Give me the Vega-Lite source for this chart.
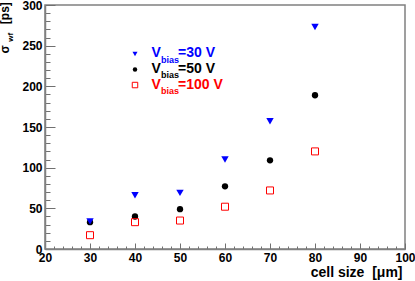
{
  "$schema": "https://vega.github.io/schema/vega-lite/v6.json",
  "width": 360,
  "height": 244,
  "autosize": "none",
  "padding": {"left": 45, "top": 5, "right": 10, "bottom": 32},
  "background": "white",
  "config": {
    "view": {"stroke": "#808080", "strokeWidth": 1.5},
    "font": "Liberation Sans",
    "text": {"font": "Liberation Sans", "fontWeight": "bold"}
  },
  "datasets": {
    "points": [
      {"cell": 30, "bias": "30 V", "sigma": 34},
      {"cell": 40, "bias": "30 V", "sigma": 66},
      {"cell": 50, "bias": "30 V", "sigma": 69},
      {"cell": 60, "bias": "30 V", "sigma": 110},
      {"cell": 70, "bias": "30 V", "sigma": 157},
      {"cell": 80, "bias": "30 V", "sigma": 273},
      {"cell": 30, "bias": "50 V", "sigma": 33},
      {"cell": 40, "bias": "50 V", "sigma": 40},
      {"cell": 50, "bias": "50 V", "sigma": 49},
      {"cell": 60, "bias": "50 V", "sigma": 77},
      {"cell": 70, "bias": "50 V", "sigma": 109},
      {"cell": 80, "bias": "50 V", "sigma": 189},
      {"cell": 30, "bias": "100 V", "sigma": 17},
      {"cell": 40, "bias": "100 V", "sigma": 33},
      {"cell": 50, "bias": "100 V", "sigma": 35},
      {"cell": 60, "bias": "100 V", "sigma": 52},
      {"cell": 70, "bias": "100 V", "sigma": 72},
      {"cell": 80, "bias": "100 V", "sigma": 120}
    ]
  },
  "data": {"name": "points"},
  "encoding": {
    "x": {
      "field": "cell",
      "type": "quantitative",
      "scale": {"domain": [20, 100], "nice": false, "zero": false},
      "axis": {
        "title": "cell size\u00a0 [μm]",
        "titleFont": "Liberation Sans",
        "titleFontWeight": "bold",
        "titleFontSize": 14,
        "titleColor": "black",
        "titleAnchor": "end",
        "titleAlign": "right",
        "titleBaseline": "alphabetic",
        "titleX": 357,
        "titleY": 27,
        "values": [20,22,24,26,28,30,32,34,36,38,40,42,44,46,48,50,52,54,56,58,60,62,64,66,68,70,72,74,76,78,80,82,84,86,88,90,92,94,96,98,100],
        "labelExpr": "datum.value % 10 === 0 ? datum.label : ''",
        "labelFont": "Liberation Sans",
        "labelFontWeight": "bold",
        "labelFontSize": 12,
        "labelColor": "black",
        "labelPadding": 3,
        "labelOverlap": false,
        "labelBound": false,
        "labelFlush": false,
        "domainColor": "#808080",
        "domainWidth": 1.5,
        "ticks": false,
        "grid": true,
        "gridColor": "#707070",
        "gridOpacity": 1,
        "gridWidth": 1,
        "gridDash": {"condition": {"test": "datum.value % 10 === 0", "value": [0, 238, 6, 1000]}, "value": [0, 241, 3, 1000]}
      }
    },
    "y": {
      "field": "sigma",
      "type": "quantitative",
      "scale": {"domain": [0, 300], "nice": false, "zero": true},
      "axis": {
        "title": null,
        "values": [0,10,20,30,40,50,60,70,80,90,100,110,120,130,140,150,160,170,180,190,200,210,220,230,240,250,260,270,280,290,300],
        "labelExpr": "datum.value % 50 === 0 ? datum.label : ''",
        "labelFont": "Liberation Sans",
        "labelFontWeight": "bold",
        "labelFontSize": 12,
        "labelColor": "black",
        "labelPadding": 3,
        "labelOverlap": false,
        "labelBound": false,
        "labelFlush": false,
        "domainColor": "#808080",
        "domainWidth": 1.5,
        "ticks": false,
        "grid": true,
        "gridColor": "#707070",
        "gridOpacity": 1,
        "gridWidth": 1,
        "gridDash": {"condition": {"test": "datum.value % 50 === 0", "value": [10, 1000]}, "value": [5, 1000]}
      }
    }
  },
  "layer": [
    {
      "transform": [{"filter": "datum.bias === '50 V'"}],
      "mark": {"type": "point", "shape": "circle", "filled": true, "color": "black", "opacity": 1, "size": 40}
    },
    {
      "transform": [{"filter": "datum.bias === '30 V'"}],
      "mark": {"type": "point", "shape": "triangle-down", "filled": true, "color": "#0000ff", "opacity": 1, "size": 55}
    },
    {
      "transform": [{"filter": "datum.bias === '100 V'"}],
      "mark": {"type": "point", "shape": "square", "filled": false, "color": "#ff0000", "opacity": 1, "size": 49, "strokeWidth": 1}
    },
    {
      "transform": [{"filter": "datum.cell === 30 && datum.bias === '30 V'"}],
      "mark": {"type": "point", "shape": "triangle-down", "filled": true, "color": "#0000ff", "opacity": 1, "size": 25},
      "encoding": {"x": {"datum": 40, "type": "quantitative"}, "y": {"datum": 239.8, "type": "quantitative"}}
    },
    {
      "transform": [{"filter": "datum.cell === 30 && datum.bias === '30 V'"}],
      "mark": {"type": "point", "shape": "circle", "filled": true, "color": "black", "opacity": 1, "size": 20},
      "encoding": {"x": {"datum": 40, "type": "quantitative"}, "y": {"datum": 220.7, "type": "quantitative"}}
    },
    {
      "transform": [{"filter": "datum.cell === 30 && datum.bias === '30 V'"}],
      "mark": {"type": "point", "shape": "square", "filled": false, "color": "#ff0000", "opacity": 1, "size": 30, "strokeWidth": 1},
      "encoding": {"x": {"datum": 40, "type": "quantitative"}, "y": {"datum": 201.6, "type": "quantitative"}}
    },
    {
      "transform": [{"filter": "datum.cell === 30 && datum.bias === '30 V'"}],
      "mark": {"type": "text", "align": "left", "baseline": "alphabetic", "fontSize": 14, "color": "#0000ff"},
      "encoding": {"x": {"datum": 43.67, "type": "quantitative"}, "y": {"datum": 235.6, "type": "quantitative"}, "text": {"value": "V"}}
    },
    {
      "transform": [{"filter": "datum.cell === 30 && datum.bias === '30 V'"}],
      "mark": {"type": "text", "align": "left", "baseline": "alphabetic", "fontSize": 9, "color": "#0000ff"},
      "encoding": {"x": {"datum": 45.78, "type": "quantitative"}, "y": {"datum": 228.7, "type": "quantitative"}, "text": {"value": "bias"}}
    },
    {
      "transform": [{"filter": "datum.cell === 30 && datum.bias === '30 V'"}],
      "mark": {"type": "text", "align": "left", "baseline": "alphabetic", "fontSize": 14, "color": "#0000ff"},
      "encoding": {"x": {"datum": 49.56, "type": "quantitative"}, "y": {"datum": 235.6, "type": "quantitative"}, "text": {"value": "=30 V"}}
    },
    {
      "transform": [{"filter": "datum.cell === 30 && datum.bias === '30 V'"}],
      "mark": {"type": "text", "align": "left", "baseline": "alphabetic", "fontSize": 14, "color": "black"},
      "encoding": {"x": {"datum": 43.67, "type": "quantitative"}, "y": {"datum": 216.5, "type": "quantitative"}, "text": {"value": "V"}}
    },
    {
      "transform": [{"filter": "datum.cell === 30 && datum.bias === '30 V'"}],
      "mark": {"type": "text", "align": "left", "baseline": "alphabetic", "fontSize": 9, "color": "black"},
      "encoding": {"x": {"datum": 45.78, "type": "quantitative"}, "y": {"datum": 209.7, "type": "quantitative"}, "text": {"value": "bias"}}
    },
    {
      "transform": [{"filter": "datum.cell === 30 && datum.bias === '30 V'"}],
      "mark": {"type": "text", "align": "left", "baseline": "alphabetic", "fontSize": 14, "color": "black"},
      "encoding": {"x": {"datum": 49.56, "type": "quantitative"}, "y": {"datum": 216.5, "type": "quantitative"}, "text": {"value": "=50 V"}}
    },
    {
      "transform": [{"filter": "datum.cell === 30 && datum.bias === '30 V'"}],
      "mark": {"type": "text", "align": "left", "baseline": "alphabetic", "fontSize": 14, "color": "#ff0000"},
      "encoding": {"x": {"datum": 43.67, "type": "quantitative"}, "y": {"datum": 197.3, "type": "quantitative"}, "text": {"value": "V"}}
    },
    {
      "transform": [{"filter": "datum.cell === 30 && datum.bias === '30 V'"}],
      "mark": {"type": "text", "align": "left", "baseline": "alphabetic", "fontSize": 9, "color": "#ff0000"},
      "encoding": {"x": {"datum": 45.78, "type": "quantitative"}, "y": {"datum": 190.6, "type": "quantitative"}, "text": {"value": "bias"}}
    },
    {
      "transform": [{"filter": "datum.cell === 30 && datum.bias === '30 V'"}],
      "mark": {"type": "text", "align": "left", "baseline": "alphabetic", "fontSize": 14, "color": "#ff0000"},
      "encoding": {"x": {"datum": 49.56, "type": "quantitative"}, "y": {"datum": 197.3, "type": "quantitative"}, "text": {"value": "=100 V"}}
    },
    {
      "transform": [{"filter": "datum.cell === 30 && datum.bias === '30 V'"}],
      "mark": {"type": "text", "align": "left", "baseline": "alphabetic", "fontSize": 12, "angle": 270, "color": "black"},
      "encoding": {"x": {"datum": 11.89, "type": "quantitative"}, "y": {"datum": 240.4, "type": "quantitative"}, "text": {"value": "σ"}}
    },
    {
      "transform": [{"filter": "datum.cell === 30 && datum.bias === '30 V'"}],
      "mark": {"type": "text", "align": "left", "baseline": "alphabetic", "fontSize": 8, "angle": 270, "color": "black"},
      "encoding": {"x": {"datum": 12.8, "type": "quantitative"}, "y": {"datum": 254.9, "type": "quantitative"}, "text": {"value": "wf"}}
    },
    {
      "transform": [{"filter": "datum.cell === 30 && datum.bias === '30 V'"}],
      "mark": {"type": "text", "align": "right", "baseline": "alphabetic", "fontSize": 12, "angle": 270, "color": "black"},
      "encoding": {"x": {"datum": 11.89, "type": "quantitative"}, "y": {"datum": 303.5, "type": "quantitative"}, "text": {"value": "[ps]"}}
    }
  ]
}
